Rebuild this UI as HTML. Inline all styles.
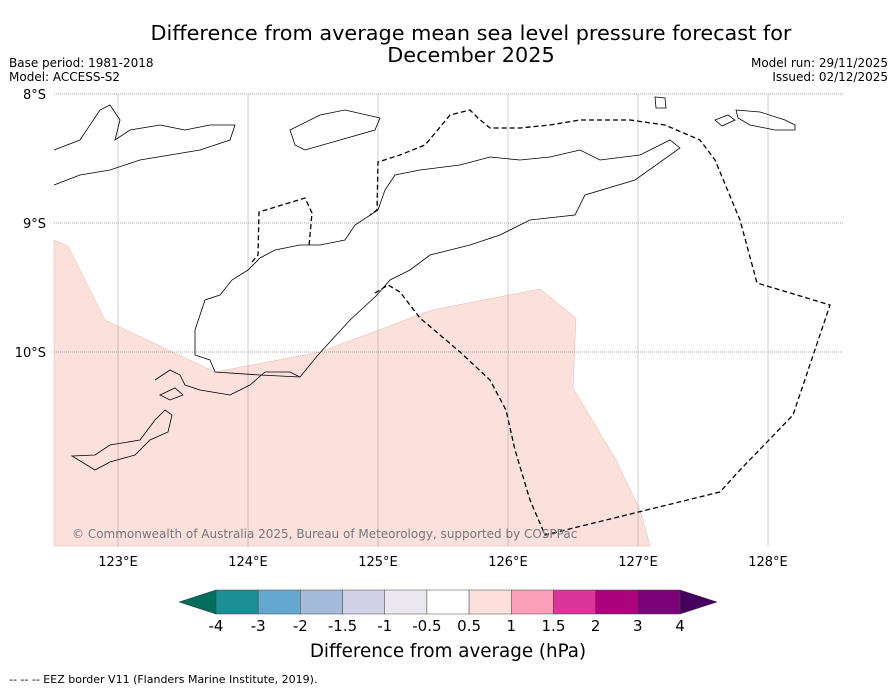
<!DOCTYPE html>
<html><head><meta charset="utf-8"><style>
body{margin:0;background:#fff;width:896px;height:690px;overflow:hidden;font-family:"Liberation Sans","DejaVu Sans",sans-serif}
svg text{font-family:"DejaVu Sans","Liberation Sans",sans-serif}
</style></head><body>
<svg id="c" width="896" height="690">
<text x="471" y="40" font-size="20.8" text-anchor="middle">Difference from average mean sea level pressure forecast for</text>
<text x="471" y="62" font-size="20.8" text-anchor="middle">December 2025</text>
<text x="9" y="67" font-size="12">Base period: 1981-2018</text>
<text x="9" y="81" font-size="12">Model: ACCESS-S2</text>
<text x="888" y="67" font-size="12" text-anchor="end">Model run: 29/11/2025</text>
<text x="888" y="81" font-size="12" text-anchor="end">Issued: 02/12/2025</text>
<g id="map">
<rect x="54" y="94" width="789" height="452" fill="#fff"/>
<polygon points="54,240 68,246 105,320 215,372 320,352 432,310 540,289 576,318 573,388 616,460 640,510 650,546 54,546" fill="#fbe0dc" stroke="#e8b8b0" stroke-width="0.5"/>
<g id="grid"></g>
<g fill="none" stroke="#000" stroke-width="0.8">
<path d="M376,296 L390,280 410,270 430,255 470,245 500,235 530,220 575,215 585,195 635,180 680,148 670,140 640,155 600,160 580,150 550,157 520,160 490,157 460,165 420,170 395,175 385,190 378,210 355,225 345,240 320,245 300,245 275,250 260,258 248,270 232,280 220,295 205,300 195,330 195,355 210,360 215,372 260,375 300,377 318,355 350,320 376,296Z"/>
<path d="M155,380 L170,370 180,375 185,385 200,390 230,395 250,385 265,372 290,372 300,377"/>
<path d="M160,395 L175,388 183,395 170,400Z"/>
<path d="M72,456 L95,455 110,445 140,440 155,420 165,410 172,415 168,432 150,440 135,455 110,462 95,470Z"/>
<path d="M54,150 L80,140 100,110 110,105 120,120 115,140 130,130 160,125 185,130 210,125 235,125 230,140 200,150 170,155 140,160 110,170 80,175 54,185"/>
<path d="M290,130 L320,115 345,110 380,118 375,130 340,140 305,150 295,145Z"/>
<path d="M655,97 L665,98 666,108 656,108Z"/>
<path d="M736,110 L760,112 785,120 795,125 795,130 775,130 750,125 738,118Z"/>
<path d="M715,120 L728,115 735,120 722,126Z"/>
</g>
<polyline fill="none" stroke="#000" stroke-width="1.3" stroke-dasharray="5,3" points="375,293 388,285 400,292 420,318 460,352 490,380 506,410 515,450 530,500 545,535 720,492 740,470 793,415 830,305 757,283 740,220 715,160 700,140 665,125 630,120 580,120 550,125 520,128 490,128 478,118 470,110 450,115 436,132 425,145 400,155 378,162 377,210 370,215"/>
<polyline fill="none" stroke="#000" stroke-width="1.3" stroke-dasharray="5,3" points="252,262 258,255 259,212 305,198 312,213 309,246"/>
<text x="72" y="538" font-size="12" fill="#777">© Commonwealth of Australia 2025, Bureau of Meteorology, supported by COSPPac</text>
</g>
<g id="cbar"></g>
<text x="448" y="657" font-size="18.3" text-anchor="middle">Difference from average (hPa)</text>
<text x="9" y="683" font-size="11">--  --  -- EEZ border V11 (Flanders Marine Institute, 2019).</text>
</svg>
<script>
const lonTicks=[123,124,125,126,127,128];
const latTicks=[8,9,10];
const levels=["-4","-3","-2","-1.5","-1","-0.5","0.5","1","1.5","2","3","4"];
const colors=["#1b8e96","#64a8d0","#a5bbdc","#d0d0e6","#eae8ee","#ffffff","#fde0dc","#fba0b8","#dc3498","#ad017e","#7a0177"];
const NS="http://www.w3.org/2000/svg";
const x=l=>118+(l-123)*130, y=la=>94+(la-8)*129;
const g=document.getElementById('grid');
function mk(t,a,p){const e=document.createElementNS(NS,t);for(const k in a)e.setAttribute(k,a[k]);p.appendChild(e);return e;}
lonTicks.forEach(l=>{
 const ln=mk('line',{x1:x(l),x2:x(l),y1:94,y2:546,stroke:'#888','stroke-width':0.4},g);
 
 
 const t=mk('text',{x:x(l),y:566,'font-size':13,'text-anchor':'middle'},document.getElementById('c'));
 t.textContent=l+'°E';
 
 
});
latTicks.forEach(la=>{
 const ln=mk('line',{x1:54,x2:843,y1:y(la),y2:y(la),stroke:'#555','stroke-width':0.6,'stroke-dasharray':'1,1'},g);
 
 
 const t=mk('text',{x:46,y:y(la)+5,'font-size':13,'text-anchor':'end'},document.getElementById('c'));
 t.textContent=la+'°S';
 
 
});
const cb=document.getElementById('cbar');
const x0=216,x1=680,w=(x1-x0)/colors.length,yt=590,yb=614;
const la=mk('polygon',{points:`${x0},${yt} 179,602 ${x0},${yb}`,fill:'#006e5c',stroke:'#333','stroke-width':0.5},cb);


const ra=mk('polygon',{points:`${x1},${yt} 717,602 ${x1},${yb}`,fill:'#45005e',stroke:'#333','stroke-width':0.5},cb);


colors.forEach((c,i)=>{
 const r=mk('rect',{x:x0+i*w,y:yt,width:w,height:yb-yt,fill:c,stroke:'#444','stroke-width':0.5},cb);
 
 
});
levels.forEach((v,i)=>{
 const t=mk('text',{x:x0+i*w,y:631,'font-size':15,'text-anchor':'middle'},cb);
 t.textContent=v;
 
 
});
</script>
</body></html>
